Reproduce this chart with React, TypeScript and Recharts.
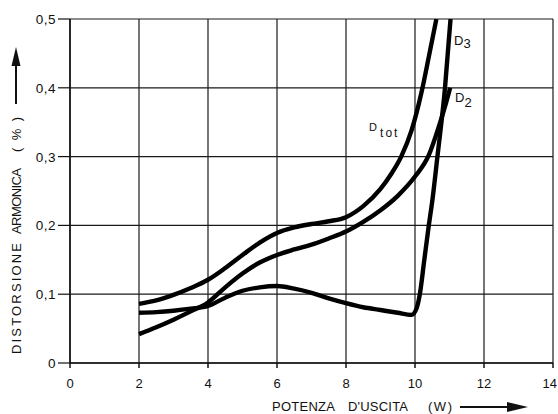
import React from 'react';
import { LineChart, Line, XAxis, YAxis, CartesianGrid, ReferenceDot } from 'recharts';

// Output power (W) ticks and distortion (%) ticks
const xTicks = [0, 2, 4, 6, 8, 10, 12, 14];
const yTicks = [0, 0.1, 0.2, 0.3, 0.4, 0.5];

// Total harmonic distortion
const dtotPower = [2, 2.5, 3, 3.5, 4, 4.5, 5, 5.5, 6, 6.5, 7, 7.5, 8, 8.5, 9, 9.3, 9.6, 9.9, 10.2, 10.4, 10.62];
const dtotDist = [0.086, 0.091, 0.099, 0.109, 0.121, 0.138, 0.157, 0.175, 0.189, 0.197, 0.202, 0.206, 0.212, 0.228, 0.253, 0.274, 0.3, 0.338, 0.396, 0.445, 0.5];

// Second harmonic
const d2Power = [2, 2.5, 3, 3.5, 4, 4.5, 5, 5.5, 6, 6.5, 7, 7.5, 8, 8.5, 9, 9.5, 10, 10.4, 10.7, 10.9, 11.02];
const d2Dist = [0.042, 0.052, 0.063, 0.075, 0.088, 0.11, 0.13, 0.146, 0.157, 0.165, 0.172, 0.181, 0.191, 0.205, 0.222, 0.243, 0.271, 0.302, 0.345, 0.378, 0.4];

// Third harmonic
const d3Power = [2, 2.5, 3, 3.5, 4, 4.5, 5, 5.5, 6, 6.5, 7, 7.5, 8, 8.5, 9, 9.5, 9.9, 10.05, 10.14, 10.27, 10.4, 10.5, 10.65, 10.87, 11.03];
const d3Dist = [0.073, 0.074, 0.076, 0.079, 0.083, 0.095, 0.105, 0.11, 0.112, 0.108, 0.102, 0.094, 0.087, 0.081, 0.077, 0.073, 0.07, 0.08, 0.1, 0.15, 0.2, 0.235, 0.3, 0.4, 0.5];

const rows = (xs: number[], ys: number[]) => xs.map((p, i) => ({ p, d: ys[i] }));

const FONT = "'Liberation Sans', Arial, sans-serif";
const INK = '#111';

const fmt = (v: number) => String(Math.round(v * 10) / 10).replace('.', ',');

const XTick = (props: any) => {
  const { x, y, payload } = props;
  const last = payload.value === xTicks[xTicks.length - 1];
  return (
    <text
      x={last ? x + 4 : x}
      y={y + 20}
      textAnchor={last ? 'end' : 'middle'}
      fontSize={13}
      fontFamily={FONT}
      fill={INK}
    >
      {payload.value}
    </text>
  );
};

const YTick = (props: any) => {
  const { x, y, payload } = props;
  return (
    <text x={x} y={y + 5} textAnchor="end" fontSize={13.5} fontFamily={FONT} fill={INK} letterSpacing={0.5}>
      {fmt(payload.value)}
    </text>
  );
};

const XTitle = () => (
  <g fill={INK} fontFamily={FONT} fontSize={13}>
    <text x={272} y={411} textLength={63} lengthAdjust="spacing">POTENZA</text>
    <text x={348} y={411} textLength={60} lengthAdjust="spacing">D'USCITA</text>
    <text x={428} y={411} textLength={24} lengthAdjust="spacing">(W)</text>
    <line x1={460} y1={407} x2={510} y2={407} stroke={INK} strokeWidth={2} />
    <polygon points="528,407 507,402 507,412" fill={INK} />
  </g>
);

const YTitle = () => (
  <g fill={INK} fontFamily={FONT} fontSize={13}>
    <g transform="translate(20.5,0) rotate(-90)">
      <text x={-354} y={0} textLength={111} lengthAdjust="spacing">DISTORSIONE</text>
      <text x={-234} y={0} textLength={66} lengthAdjust="spacing">ARMONICA</text>
      <text x={-152} y={0} textLength={35} lengthAdjust="spacing">(%)</text>
    </g>
    <line x1={16} y1={104} x2={16} y2={62} stroke={INK} strokeWidth={2} />
    <polygon points="16,47 11.5,66 20.5,66" fill={INK} />
  </g>
);

const d3Tag = (props: any) => (
  <text x={props.cx} y={props.cy} fontSize={13} fontFamily={FONT} fill={INK}>
    D<tspan dy={3}>3</tspan>
  </text>
);

const d2Tag = (props: any) => (
  <text x={props.cx} y={props.cy} fontSize={13} fontFamily={FONT} fill={INK}>
    D<tspan dy={5}>2</tspan>
  </text>
);

const dtotTag = (props: any) => (
  <text x={props.cx} y={props.cy} fontSize={11} fontFamily={FONT} fill={INK}>
    D<tspan dx={3} dy={6} fontSize={12} letterSpacing={2}>tot</tspan>
  </text>
);

export default function App() {
  return (
    <div style={{ position: 'absolute', left: 0, top: 0, background: '#fff' }}>
      <LineChart width={558} height={414} margin={{ top: 19, right: 5, bottom: 0, left: 0 }}>
        <CartesianGrid stroke="#1a1a1a" strokeWidth={1.2} />
        <XAxis
          type="number"
          dataKey="p"
          domain={[0, 14]}
          ticks={xTicks}
          interval={0}
          height={51}
          tickSize={5}
          tickMargin={0}
          axisLine={{ stroke: INK, strokeWidth: 1.5 }}
          tickLine={{ stroke: INK, strokeWidth: 1.5 }}
          tick={<XTick />}
          allowDataOverflow
          label={<XTitle />}
        />
        <YAxis
          type="number"
          domain={[0, 0.5]}
          ticks={yTicks}
          interval={0}
          width={70}
          tickSize={12}
          tickMargin={2}
          axisLine={{ stroke: INK, strokeWidth: 1.5 }}
          tickLine={{ stroke: INK, strokeWidth: 1.2 }}
          tick={<YTick />}
          allowDataOverflow
          label={<YTitle />}
        />
        <Line data={rows(dtotPower, dtotDist)} dataKey="d" type="monotone" stroke="#000" strokeWidth={4.4} dot={false} activeDot={false} isAnimationActive={false} />
        <Line data={rows(d2Power, d2Dist)} dataKey="d" type="monotone" stroke="#000" strokeWidth={4.4} dot={false} activeDot={false} isAnimationActive={false} />
        <Line data={rows(d3Power, d3Dist)} dataKey="d" type="monotone" stroke="#000" strokeWidth={4.4} dot={false} activeDot={false} isAnimationActive={false} />
        <ReferenceDot x={11.13} y={0.462} r={0} shape={d3Tag} />
        <ReferenceDot x={11.16} y={0.379} r={0} shape={d2Tag} />
        <ReferenceDot x={8.67} y={0.337} r={0} shape={dtotTag} />
      </LineChart>
    </div>
  );
}
